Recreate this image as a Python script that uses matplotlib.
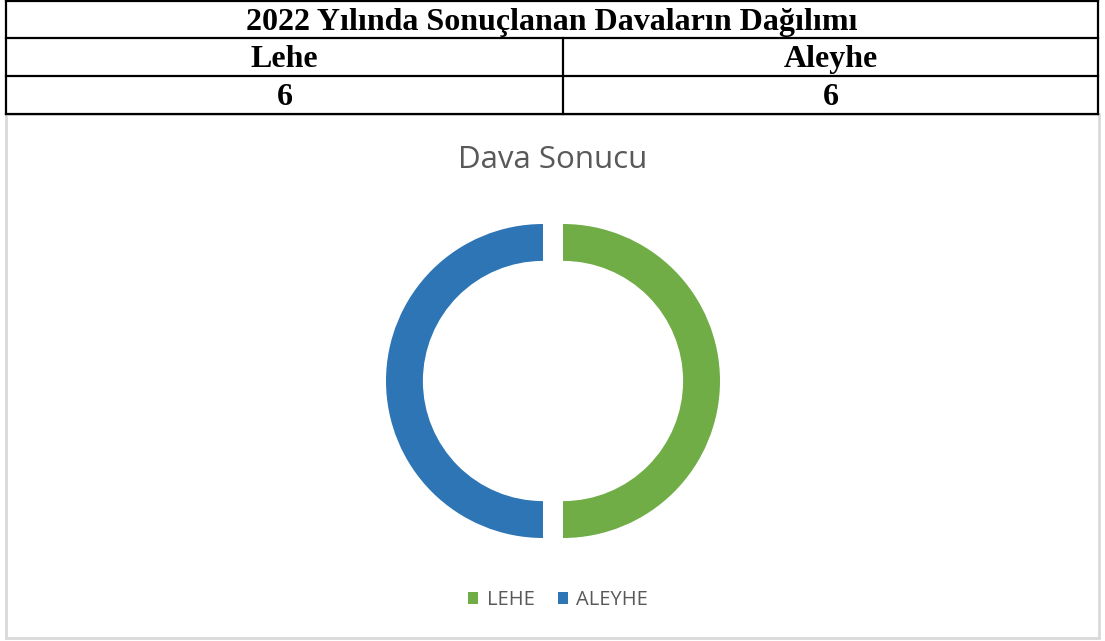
import matplotlib
matplotlib.use("Agg")
import matplotlib.pyplot as plt
from matplotlib.patches import Patch, Rectangle

# data
table_title = "2022 Yılında Sonuçlanan Davaların Dağılımı"
table_headers = ["Lehe", "Aleyhe"]
table_values = [6, 6]

chart_title = "Dava Sonucu"
labels = ["LEHE", "ALEYHE"]
values = [6, 6]
colors = ["#70AD47", "#2E75B6"]

W, H = 1105, 641
fig = plt.figure(figsize=(W / 100, H / 100), dpi=100)
fig.patch.set_facecolor("white")

# background axes in pixel coordinates for table and frame
bg = fig.add_axes([0, 0, 1, 1])
bg.set_xlim(0, W)
bg.set_ylim(H, 0)
bg.axis("off")

# chart frame (light gray)
bg.add_patch(Rectangle((6, 114), 1093, 524, fill=False, edgecolor="#D9D9D9", lw=2))

# table
left, mid, right = 6, 563, 1098
rows = [1, 38, 76, 114]
baselines = [30, 67, 105]
for y in rows:
    bg.plot([left, right], [y, y], color="black", lw=1.6, solid_capstyle="projecting")
bg.plot([left, left], [rows[0], rows[-1]], color="black", lw=1.6)
bg.plot([right, right], [rows[0], rows[-1]], color="black", lw=1.6)
bg.plot([mid, mid], [rows[1], rows[-1]], color="black", lw=1.6)

tfont = dict(family="Liberation Serif", weight="bold", fontsize=23, color="black",
             ha="center", va="baseline")
bg.text((left + right) / 2, baselines[0], table_title, **tfont)
for i, (h, v) in enumerate(zip(table_headers, table_values)):
    cx = (left + mid) / 2 if i == 0 else (mid + right) / 2
    bg.text(cx, baselines[1], h, **tfont)
    bg.text(cx, baselines[2], str(v), **tfont)

# chart title
bg.text(553, 160, chart_title, fontsize=22.5, color="#595959", ha="center", va="center",
        family="Open Sans")

# donut
r_px = 157
half = 200
cx, cy = 553, 381
ax = fig.add_axes([(cx - half) / W, (H - cy - half) / H, 2 * half / W, 2 * half / H])
ax.pie(values, colors=colors, startangle=90, counterclock=False,
       explode=[10 / r_px] * len(values),
       wedgeprops=dict(width=0.235, edgecolor="none"))
lim = half / r_px
ax.set_xlim(-lim, lim)
ax.set_ylim(-lim, lim)
ax.set_aspect("equal")
ax.axis("off")

# legend
handles = [Patch(facecolor=c, edgecolor="none", label=l) for c, l in zip(colors, labels)]
leg = fig.legend(handles=handles, loc="center", bbox_to_anchor=(558 / W, (H - 600) / H),
                 ncol=2, frameon=False, handlelength=0.5, handleheight=0.5,
                 handletextpad=0.4, columnspacing=1.15,
                 prop=dict(family="Open Sans", size=14.5))
for t in leg.get_texts():
    t.set_color("#595959")

fig.savefig("out.png", dpi=100, facecolor="white")
